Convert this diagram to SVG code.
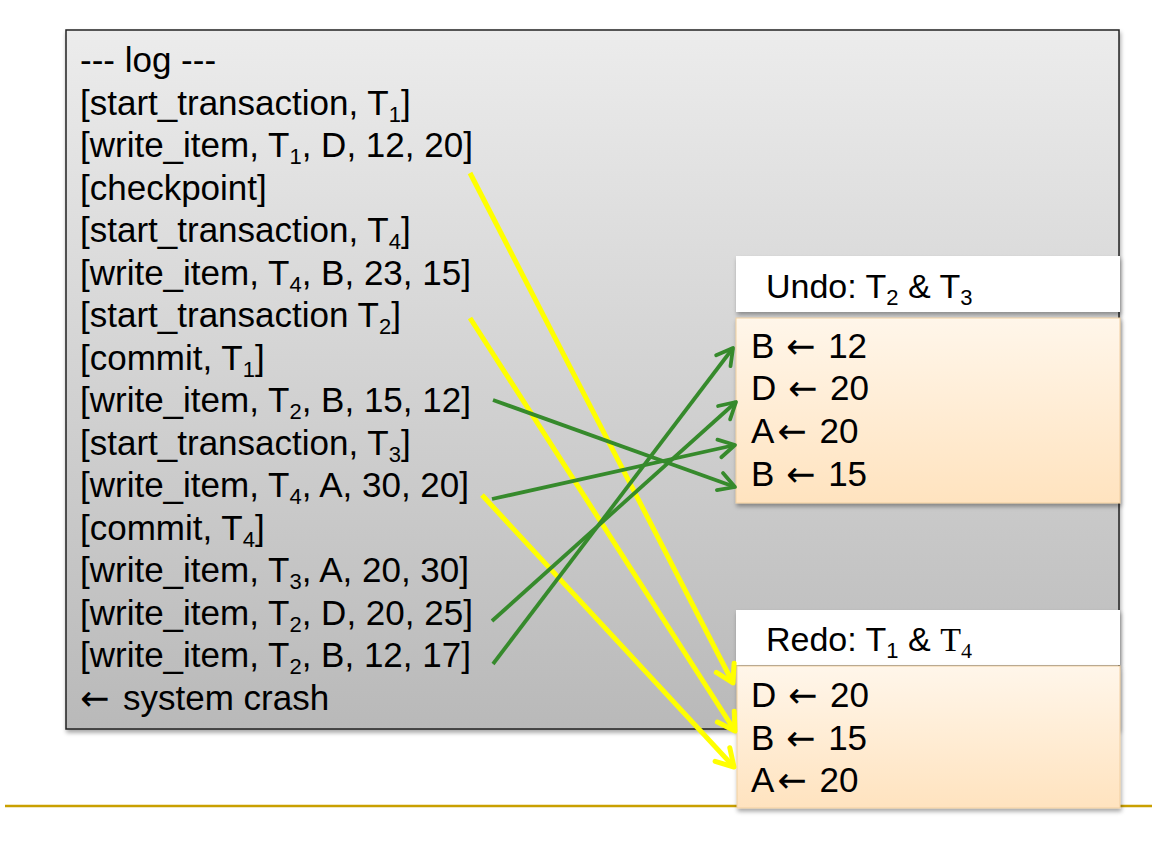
<svg xmlns="http://www.w3.org/2000/svg" width="1165" height="842" viewBox="0 0 1165 842">
<defs>
<linearGradient id="logGrad" x1="0" y1="0" x2="0" y2="1">
<stop offset="0" stop-color="#ececec"/>
<stop offset="1" stop-color="#b9b9b9"/>
</linearGradient>
<linearGradient id="bodyGrad" x1="0" y1="0" x2="0" y2="1">
<stop offset="0" stop-color="#fff6ea"/>
<stop offset="1" stop-color="#ffe3bf"/>
</linearGradient>
<filter id="shadow" x="-5%" y="-5%" width="110%" height="115%">
<feDropShadow dx="1" dy="3" stdDeviation="2" flood-color="#000" flood-opacity="0.35"/>
</filter>
<marker id="ag" markerUnits="userSpaceOnUse" markerWidth="30" markerHeight="30" viewBox="-20 -15 30 30" refX="0" refY="0" orient="auto">
<polyline points="-16,-9 0,0 -16,9" fill="none" stroke="#368a2c" stroke-width="3.8" stroke-linecap="round" stroke-linejoin="round"/>
</marker>
<marker id="ay" markerUnits="userSpaceOnUse" markerWidth="30" markerHeight="30" viewBox="-20 -15 30 30" refX="0" refY="0" orient="auto">
<polyline points="-17,-10 0,0 -17,10" fill="none" stroke="#ffff00" stroke-width="5" stroke-linecap="round" stroke-linejoin="round"/>
</marker>
</defs>
<style>
.t{font-family:"Liberation Sans",Arial,"DejaVu Sans",sans-serif;font-size:35px;fill:#000}
.h{font-family:"Liberation Sans",Arial,"DejaVu Sans",sans-serif;font-size:34px;fill:#000}
.s{font-size:22px}
.ar{font-family:"DejaVu Sans",sans-serif;font-weight:normal}
.g{fill:none;stroke:#368a2c;stroke-width:3.8;marker-end:url(#ag)}
.y{fill:none;stroke:#ffff00;stroke-width:5;marker-end:url(#ay)}
</style>
<rect width="1165" height="842" fill="#fff"/>
<line x1="5" y1="806" x2="1152" y2="806" stroke="#c9a000" stroke-width="2.5"/>

<g id="log">
<rect x="66" y="30" width="1053" height="699" fill="url(#logGrad)" stroke="#222" stroke-width="1.5" filter="url(#shadow)"/>
<text class="t" x="80" y="72">--- log ---</text>
<text class="t" x="80" y="114.5">[start_transaction, T<tspan class="s" dy="7">1</tspan><tspan dy="-7">]</tspan></text>
<text class="t" x="80" y="157">[write_item, T<tspan class="s" dy="7">1</tspan><tspan dy="-7">, D, 12, 20]</tspan></text>
<text class="t" x="80" y="199.5">[checkpoint]</text>
<text class="t" x="80" y="242">[start_transaction, T<tspan class="s" dy="7">4</tspan><tspan dy="-7">]</tspan></text>
<text class="t" x="80" y="284.5">[write_item, T<tspan class="s" dy="7">4</tspan><tspan dy="-7">, B, 23, 15]</tspan></text>
<text class="t" x="80" y="327">[start_transaction T<tspan class="s" dy="7">2</tspan><tspan dy="-7">]</tspan></text>
<text class="t" x="80" y="369.5">[commit, T<tspan class="s" dy="7">1</tspan><tspan dy="-7">]</tspan></text>
<text class="t" x="80" y="412">[write_item, T<tspan class="s" dy="7">2</tspan><tspan dy="-7">, B, 15, 12]</tspan></text>
<text class="t" x="80" y="454.5">[start_transaction, T<tspan class="s" dy="7">3</tspan><tspan dy="-7">]</tspan></text>
<text class="t" x="80" y="497">[write_item, T<tspan class="s" dy="7">4</tspan><tspan dy="-7">, A, 30, 20]</tspan></text>
<text class="t" x="80" y="539.5">[commit, T<tspan class="s" dy="7">4</tspan><tspan dy="-7">]</tspan></text>
<text class="t" x="80" y="582">[write_item, T<tspan class="s" dy="7">3</tspan><tspan dy="-7">, A, 20, 30]</tspan></text>
<text class="t" x="80" y="624.5">[write_item, T<tspan class="s" dy="7">2</tspan><tspan dy="-7">, D, 20, 25]</tspan></text>
<text class="t" x="80" y="667">[write_item, T<tspan class="s" dy="7">2</tspan><tspan dy="-7">, B, 12, 17]</tspan></text>
<text class="t" x="80" y="709.5"><tspan class="ar">←</tspan><tspan dx="4"> system crash</tspan></text>
</g>

<g id="undo">
<rect x="736" y="256" width="384" height="56" fill="#fff" filter="url(#shadow)"/>
<text class="h" x="766" y="298">Undo: T<tspan class="s" dy="7">2</tspan><tspan dy="-7"> &amp; T</tspan><tspan class="s" dy="7">3</tspan></text>
<rect x="736" y="318" width="384" height="185" fill="url(#bodyGrad)" stroke="#f0cfa0" stroke-width="1" filter="url(#shadow)"/>
<text class="t" x="751" y="358">B <tspan class="ar" dx="2">←</tspan><tspan dx="3"> 12</tspan></text>
<text class="t" x="751" y="400">D <tspan class="ar" dx="2">←</tspan><tspan dx="3"> 20</tspan></text>
<text class="t" x="751" y="443">A<tspan class="ar" dx="3">←</tspan><tspan dx="3"> 20</tspan></text>
<text class="t" x="751" y="486">B <tspan class="ar" dx="2">←</tspan><tspan dx="3"> 15</tspan></text>
</g>

<g id="redo">
<rect x="736" y="610" width="384" height="55" fill="#fff" filter="url(#shadow)"/>
<text class="h" x="766" y="651">Redo: T<tspan class="s" dy="7">1</tspan><tspan dy="-7"> &amp; </tspan><tspan font-family="'Liberation Serif','Times New Roman',serif">T</tspan><tspan class="s" font-family="'Liberation Serif','Times New Roman',serif" dy="7">4</tspan></text>
<rect x="737" y="666" width="383" height="142" fill="url(#bodyGrad)" stroke="#f0cfa0" stroke-width="1" filter="url(#shadow)"/>
<text class="t" x="751" y="707">D <tspan class="ar" dx="2">←</tspan><tspan dx="3"> 20</tspan></text>
<text class="t" x="751" y="750">B <tspan class="ar" dx="2">←</tspan><tspan dx="3"> 15</tspan></text>
<text class="t" x="751" y="792">A<tspan class="ar" dx="3">←</tspan><tspan dx="3"> 20</tspan></text>
</g>

<g id="connectors">
<line class="y" x1="470" y1="173" x2="733" y2="683"/>
<line class="y" x1="470" y1="318" x2="735" y2="731"/>
<line class="y" x1="482" y1="495" x2="734" y2="767"/>
<line class="g" x1="493" y1="400" x2="735" y2="487"/>
<line class="g" x1="492" y1="499" x2="735" y2="445"/>
<line class="g" x1="492" y1="621" x2="736" y2="402"/>
<line class="g" x1="493" y1="664" x2="733" y2="348"/>
</g>
</svg>
